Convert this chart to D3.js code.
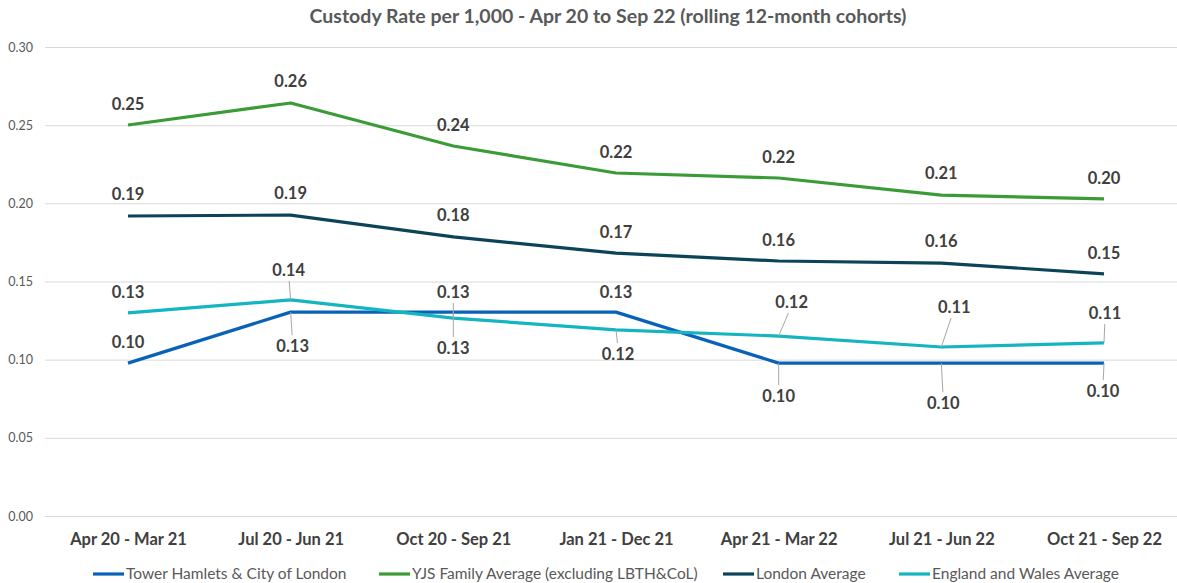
<!DOCTYPE html>
<html><head><meta charset="utf-8">
<script src="https://cdn.jsdelivr.net/npm/d3@7"></script>
<style>body{margin:0;background:#fff}svg{display:block;font-family:Lato,"Open Sans",sans-serif}</style>
</head><body><svg id="c" width="1177" height="583"></svg>
<script>
const categories = ["Apr 20 - Mar 21","Jul 20 - Jun 21","Oct 20 - Sep 21","Jan 21 - Dec 21","Apr 21 - Mar 22","Jul 21 - Jun 22","Oct 21 - Sep 22"];
const seriesNames = ["Tower Hamlets & City of London","YJS Family Average (excluding LBTH&CoL)","London Average","England and Wales Average"];
const towerHamlets = [0.0978,0.1304,0.1304,0.1304,0.0978,0.0978,0.0978];
const yjsFamily = [0.2501,0.2642,0.2367,0.2194,0.2162,0.2053,0.2028];
const londonAvg = [0.1919,0.1925,0.1785,0.1682,0.1631,0.1618,0.1549];
const englandWales = [0.1299,0.1382,0.1266,0.1190,0.1151,0.1081,0.1107];
const yTicks = [0,0.05,0.10,0.15,0.20,0.25,0.30];
const colors = ["#0a62b8","#3b9c37","#0b4458","#15b4c1"];
// label placement offsets (dx, dy) relative to point
const labelOffsets = [
  [[0,-21],[2,34],[0,36],[0,-20],[0,33],[2,40],[-1,28]],
  [[0,-21],[0,-22],[0,-21],[0,-21],[0,-21],[0,-22],[0,-21]],
  [[0,-22],[0,-22],[0,-22],[0,-21],[0,-21],[0,-22],[0,-21]],
  [[0,-21],[-2,-30],[0,-26],[2,24],[13,-34],[13,-40],[1,-30]]
];
const allSeries = [towerHamlets,yjsFamily,londonAvg,englandWales];

const svg = d3.select("#c");
const x = d3.scalePoint().domain(categories).range([128,1104]);
const y = d3.scaleLinear().domain([0,0.30]).range([516,47]);

// title
svg.append("text").attr("x",608).attr("y",23).attr("text-anchor","middle")
  .attr("font-size",19.5).attr("font-weight","bold").attr("fill","#595959")
  .text("Custody Rate per 1,000 - Apr 20 to Sep 22 (rolling 12-month cohorts)");

// y axis grid
const yAxis = d3.axisLeft(y).tickValues(yTicks).tickFormat(d3.format(".2f")).tickSize(-1140);
const gy = svg.append("g").attr("transform","translate(45,0)").call(yAxis);
gy.select(".domain").remove();
gy.selectAll(".tick line").attr("stroke","#d9d9d9").attr("stroke-width",1);
gy.selectAll(".tick text").attr("x",-12).attr("fill","#595959").attr("font-size",12.5).attr("font-family","Lato,sans-serif");

// x axis labels
const xAxis = d3.axisBottom(x).tickSize(0);
const gx = svg.append("g").attr("transform","translate(0,530)").call(xAxis);
gx.select(".domain").remove();
gx.selectAll(".tick text").attr("fill","#404040").attr("font-size",16.5).attr("font-weight","bold").attr("font-family","Lato,sans-serif").attr("dy","0.71em");

const line = d3.line().x((d,i)=>x(categories[i])).y(d=>y(d));
allSeries.forEach((vals,s)=>{
  svg.append("path").datum(vals).attr("d",line)
    .attr("fill","none").attr("stroke",colors[s]).attr("stroke-width",3.2).attr("stroke-linejoin","round");
});

// labels + leader lines
allSeries.forEach((vals,s)=>{
  vals.forEach((v,i)=>{
    const px = x(categories[i]), py = y(v);
    const [dx,dy] = labelOffsets[s][i];
    const lx = px+dx, ly = py+dy;
    if (Math.abs(dy) >= 24) {
      const dir = dy>0?1:-1;
      svg.append("line").attr("x1",px).attr("y1",py)
        .attr("x2",px+dx*0.75).attr("y2",ly-dir*11)
        .attr("stroke","#a6a6a6").attr("stroke-width",1);
    }
    svg.append("text").attr("x",lx).attr("y",ly).attr("text-anchor","middle").attr("dy","0.35em")
      .attr("font-size",16.5).attr("font-weight","bold").attr("fill","#404040")
      .text(d3.format(".2f")(v));
  });
});

// legend
const legendX = [93,379,723,899];
const lg = svg.append("g");
seriesNames.forEach((n,s)=>{
  const g = lg.append("g").attr("transform",`translate(${legendX[s]},574)`);
  g.append("line").attr("x1",0).attr("x2",31).attr("y1",0).attr("y2",0).attr("stroke",colors[s]).attr("stroke-width",3.2);
  g.append("text").attr("x",33).attr("y",0).attr("dy","0.35em").attr("font-size",15.5).attr("fill","#595959").text(n);
});
</script></body></html>
